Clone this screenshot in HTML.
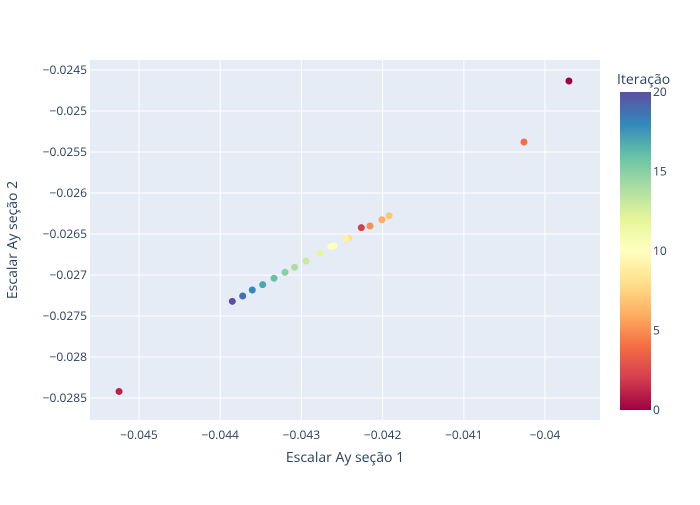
<!DOCTYPE html>
<html><head><meta charset="utf-8"><style>
body{margin:0;background:#fff;}
svg{font-family:"Open Sans","Liberation Sans",sans-serif;}
</style></head><body>
<svg id="chart" width="700" height="500">
<defs><linearGradient id="cb" x1="0" y1="1" x2="0" y2="0">
<stop offset="0" stop-color="#9e0142"/><stop offset="0.1" stop-color="#d53e4f"/><stop offset="0.2" stop-color="#f46d43"/><stop offset="0.3" stop-color="#fdae61"/><stop offset="0.4" stop-color="#fee08b"/><stop offset="0.5" stop-color="#ffffbf"/><stop offset="0.6" stop-color="#e6f598"/><stop offset="0.7" stop-color="#abdda4"/><stop offset="0.8" stop-color="#66c2a5"/><stop offset="0.9" stop-color="#3288bd"/><stop offset="1" stop-color="#5e4fa2"/>
</linearGradient></defs>
<rect x="90" y="60" width="510" height="360" fill="#e5ecf6"/>
<g id="grid"></g><g id="pts"></g><g id="ticks"></g>
<text x="345" y="462" text-anchor="middle" font-size="14" fill="#2a3f5f">Escalar Ay seção 1</text>
<text transform="translate(17,240) rotate(-90)" text-anchor="middle" font-size="14" fill="#2a3f5f">Escalar Ay seção 2</text>
<text x="617" y="84" font-size="14" fill="#2a3f5f">Iteração</text>
<rect x="620" y="92" width="31" height="318" fill="url(#cb)"/>
<g id="cbt"></g>
</svg>
<script>
const xs=[-0.039705,-0.045246,-0.042262,-0.040259,-0.042155,-0.042008,-0.041921,-0.042418,-0.042447,-0.042599,-0.042636,-0.042767,-0.042943,-0.043083,-0.043202,-0.043337,-0.043477,-0.043605,-0.043723,-0.043851];
const ys=[-0.024634,-0.02842,-0.026423,-0.025378,-0.026402,-0.026326,-0.026277,-0.026549,-0.026557,-0.026643,-0.026655,-0.026732,-0.026829,-0.026906,-0.026967,-0.02704,-0.027118,-0.027183,-0.027256,-0.027321];
const iters=[0,1,2,4,5,6,7,8,9,10,10,12,13,14,15,16,17,18,19,20];
const xTicks=[-0.045,-0.044,-0.043,-0.042,-0.041,-0.04];
const xTickLabels=["−0.045","−0.044","−0.043","−0.042","−0.041","−0.04"];
const yTicks=[-0.0245,-0.025,-0.0255,-0.026,-0.0265,-0.027,-0.0275,-0.028,-0.0285];
const yTickLabels=["−0.0245","−0.025","−0.0255","−0.026","−0.0265","−0.027","−0.0275","−0.028","−0.0285"];
const cbTicks=[0,5,10,15,20];
const NS="http://www.w3.org/2000/svg";
const X=v=>139+(v+0.045)/0.001*81.2;
const Y=v=>70+(-0.0245-v)/0.0005*41;
const C=v=>410-v/20*318;
const stops=["#9e0142","#d53e4f","#f46d43","#fdae61","#fee08b","#ffffbf","#e6f598","#abdda4","#66c2a5","#3288bd","#5e4fa2"];
function col(v){const t=v/20*10;const i=Math.min(9,Math.floor(t));const f=t-i;
const a=stops[i],b=stops[i+1];const p=(s,k)=>parseInt(s.substr(1+2*k,2),16);
return "rgb("+[0,1,2].map(k=>Math.round(p(a,k)+(p(b,k)-p(a,k))*f)).join(",")+")";}
function mk(t,at,par){const e=document.createElementNS(NS,t);for(const k in at)e.setAttribute(k,at[k]);document.getElementById(par).appendChild(e);return e;}
xTicks.forEach((v,i)=>{
const l=mk("line",{x1:X(v),x2:X(v),y1:60,y2:420,stroke:"#fff","stroke-width":1},"grid");


const t=mk("text",{x:X(v),y:439,"text-anchor":"middle","font-size":12,fill:"#2a3f5f"},"ticks");t.textContent=xTickLabels[i];


});
yTicks.forEach((v,i)=>{
const l=mk("line",{x1:90,x2:600,y1:Y(v),y2:Y(v),stroke:"#fff","stroke-width":1},"grid");


const t=mk("text",{x:87,y:Y(v)+4,"text-anchor":"end","font-size":12,fill:"#2a3f5f"},"ticks");t.textContent=yTickLabels[i];


});
xs.forEach((v,i)=>{
const c=mk("circle",{cx:X(v),cy:Y(ys[i]),r:3.5,fill:col(iters[i])},"pts");


});
cbTicks.forEach(v=>{
const t=mk("text",{x:653,y:C(v)+4,"font-size":12,fill:"#2a3f5f"},"cbt");t.textContent=v;


});
</script>
</body></html>
